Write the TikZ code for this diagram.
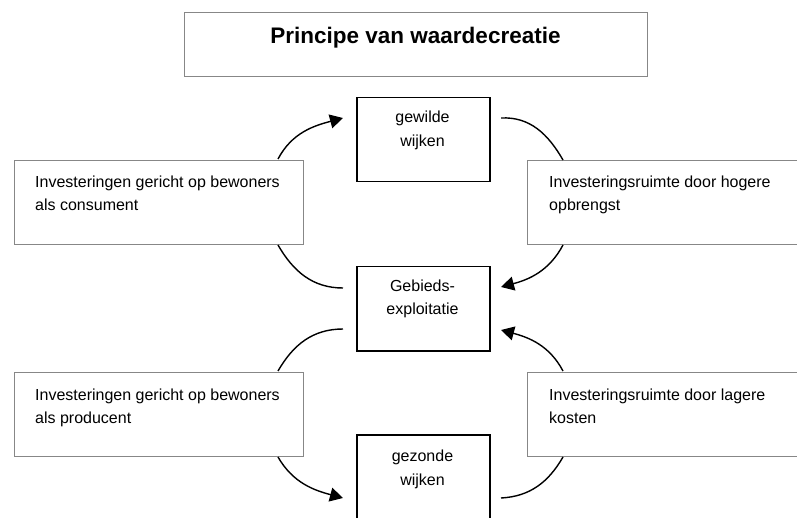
\documentclass[tikz,border=0pt]{standalone}
\usepackage{fontspec}
\setmainfont{Liberation Sans}
\usetikzlibrary{arrows.meta}
\definecolor{boxgray}{RGB}{135,135,135}
\begin{document}
\begin{tikzpicture}[x=1pt,y=1pt,
  outerbox/.style={draw=boxgray,line width=1.3pt,rectangle,inner sep=0pt,anchor=north west},
  centerbox/.style={draw=black,line width=1.5pt,rectangle,inner sep=0pt,anchor=north west,minimum width=133pt,minimum height=84pt},
  sidetext/.style={anchor=base west,inner sep=0pt,align=left,font=\fontsize{16}{23}\selectfont},
  centertext/.style={anchor=base,inner sep=0pt,align=center,font=\fontsize{16}{24}\selectfont},
  conn/.style={line width=1.4pt,black},
  tip/.style={-{Triangle[length=13pt,width=14pt]}}
]
\useasboundingbox (0,0) rectangle (797,517);
\fill[white] (0,0) rectangle (797,517);

% title
\node[outerbox,minimum width=463pt,minimum height=64pt] (title) at (184,505) {};
\node[anchor=base,inner sep=0pt,font=\fontsize{22.5}{26}\selectfont\bfseries] (titlet) at (415.5,473) {Principe van waardecreatie};

% center boxes (anchor base = last line)
\node[centerbox] (gew) at (356,420) {};
\node[centertext] (gewt) at (422.5,370) {gewilde\\wijken};
\node[centerbox] (geb) at (356,251) {};
\node[centertext] (gebt) at (422.5,202) {Gebieds-\\exploitatie};
\node[centerbox,minimum height=100pt] (gez) at (356,83) {};
\node[centertext] (gezt) at (422.5,32) {gezonde\\wijken};

% side boxes
\node[outerbox,minimum width=289pt,minimum height=84pt] (lt) at (14,357) {};
\node[sidetext] (ltt) at (35,306) {Investeringen gericht op bewoners\\als consument};
\node[outerbox,minimum width=290pt,minimum height=84pt] (rt) at (527,357) {};
\node[sidetext] (rtt) at (549,306) {Investeringsruimte door hogere\\opbrengst};
\node[outerbox,minimum width=289pt,minimum height=84pt] (lb) at (14,145) {};
\node[sidetext] (lbt) at (35,94) {Investeringen gericht op bewoners\\als producent};
\node[outerbox,minimum width=290pt,minimum height=84pt] (rb) at (527,145) {};
\node[sidetext] (rbt) at (549,94) {Investeringsruimte door lagere\\kosten};

% connector end points
\coordinate (a1s) at (278,358);  \coordinate (a1e) at (343,399);
\coordinate (a2s) at (501,399);  \coordinate (a2e) at (563,357);
\coordinate (a3s) at (563,272);  \coordinate (a3e) at (501,230);
\coordinate (a4s) at (278,272);  \coordinate (a4e) at (343,229);
\coordinate (a5s) at (343,188);  \coordinate (a5e) at (278,146);
\coordinate (a6s) at (563,146);  \coordinate (a6e) at (501,187);
\coordinate (a7s) at (278,60);   \coordinate (a7e) at (343,19);
\coordinate (a8s) at (501,19);   \coordinate (a8e) at (563,60);

\draw[conn,tip] (a1s) to[out=62,in=195] (a1e);
\draw[conn] (a2s) to[out=3,in=120] (a2e);
\draw[conn,tip] (a3s) to[out=-118,in=15] (a3e);
\draw[conn] (a4s) to[out=-60,in=180] (a4e);
\draw[conn] (a5s) to[out=180,in=60] (a5e);
\draw[conn,tip] (a6s) to[out=118,in=-15] (a6e);
\draw[conn,tip] (a7s) to[out=-60,in=165] (a7e);
\draw[conn] (a8s) to[out=3,in=-120] (a8e);
\end{tikzpicture}
\end{document}
